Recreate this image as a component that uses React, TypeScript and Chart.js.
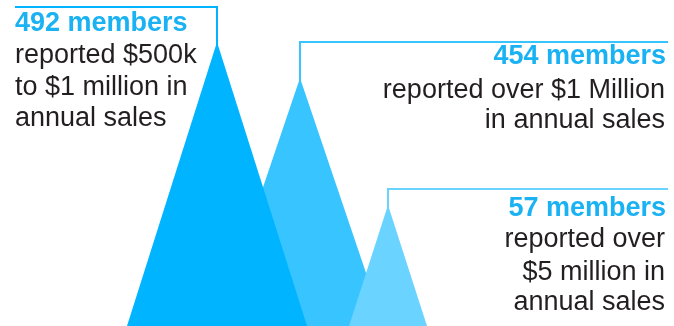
import React, { useEffect, useRef } from "react";
import { Chart, registerables } from "chart.js";

Chart.register(...registerables);

// Data
const members = [492, 454, 57];
const headlines = ["492 members", "454 members", "57 members"];
const descriptions = [
  ["reported $500k", "to $1 million in", "annual sales"],
  ["reported over $1 Million", "in annual sales"],
  ["reported over", "$5 million in", "annual sales"],
];
// peak position (x axis units), peak height and half base width (axis units)
const peakCenters = [217, 300, 388];
const peakHeights = [284, 248, 121];
const peakHalfWidths = [90, 84, 39];
// callout line level (y axis units) and text anchor
const calloutLevels = [319, 284, 137];
const calloutEnds = [15, 668, 668];
const fillColors = ["#00B4FF", "#38C4FF", "#6BD3FF"];
const lineColors = ["#00B4FF", "#38C4FF", "#6BD3FF"];
// text line offsets below each callout line
const textOffsets = [
  [24, 56, 87.5, 119],
  [22, 56, 86],
  [27, 58, 91, 121],
];

const X_MAX = 674;
const Y_MAX = 326;

const textPlugin = {
  id: "calloutText",
  afterDraw(chart: any) {
    const ctx = chart.ctx;
    const xs = chart.scales.x;
    const ys = chart.scales.y;
    ctx.save();
    ctx.textBaseline = "alphabetic";
    const fontSize = 27;
    for (let i = 0; i < members.length; i++) {
      const left = calloutEnds[i] < peakCenters[i];
      const ax = xs.getPixelForValue(calloutEnds[i]);
      const ay = ys.getPixelForValue(calloutLevels[i]);
      ctx.textAlign = left ? "left" : "right";
      const offs = textOffsets[i];
      ctx.font = `bold ${fontSize}px "Liberation Sans", Arial, sans-serif`;
      ctx.fillStyle = "#1AB2F2";
      ctx.fillText(headlines[i], ax - (left ? 0 : 2), ay + offs[0]);
      ctx.font = `${fontSize}px "Liberation Sans", Arial, sans-serif`;
      ctx.fillStyle = "#231F20";
      descriptions[i].forEach((line, j) => {
        ctx.fillText(line, ax - (left ? 0 : 3), ay + offs[j + 1]);
      });
    }
    ctx.restore();
  },
};

export default function App() {
  const ref = useRef<HTMLCanvasElement>(null);
  useEffect(() => {
    document.body.style.margin = "0";
    const triangles = members.map((_, i) => ({
      type: "line" as const,
      data: [
        { x: peakCenters[i] - peakHalfWidths[i], y: 0 },
        { x: peakCenters[i], y: peakHeights[i] },
        { x: peakCenters[i] + peakHalfWidths[i], y: 0 },
      ],
      backgroundColor: fillColors[i],
      borderColor: fillColors[i],
      borderWidth: 0,
      pointRadius: 0,
      fill: "origin",
      tension: 0,
      order: i === 1 ? 3 : 2,
    }));
    const callouts = members.map((_, i) => ({
      type: "line" as const,
      data: [
        { x: calloutEnds[i], y: calloutLevels[i] },
        { x: peakCenters[i], y: calloutLevels[i] },
        { x: peakCenters[i], y: peakHeights[i] - 4 },
      ],
      borderColor: lineColors[i],
      borderWidth: 2,
      pointRadius: 0,
      fill: false,
      tension: 0,
      order: 1,
    }));
    const chart = new Chart(ref.current!, {
      type: "line",
      data: { datasets: [...triangles, ...callouts] as any },
      options: {
        animation: false,
        responsive: false,
        layout: { padding: 0 },
        plugins: { legend: { display: false }, tooltip: { enabled: false } },
        scales: {
          x: { type: "linear", min: 0, max: X_MAX, display: false },
          y: { type: "linear", min: 0, max: Y_MAX, display: false },
        },
      },
      plugins: [textPlugin],
    });
    return () => chart.destroy();
  }, []);
  return (
    <div style={{ width: X_MAX, height: Y_MAX }}>
      <canvas ref={ref} width={X_MAX} height={Y_MAX} />
    </div>
  );
}
